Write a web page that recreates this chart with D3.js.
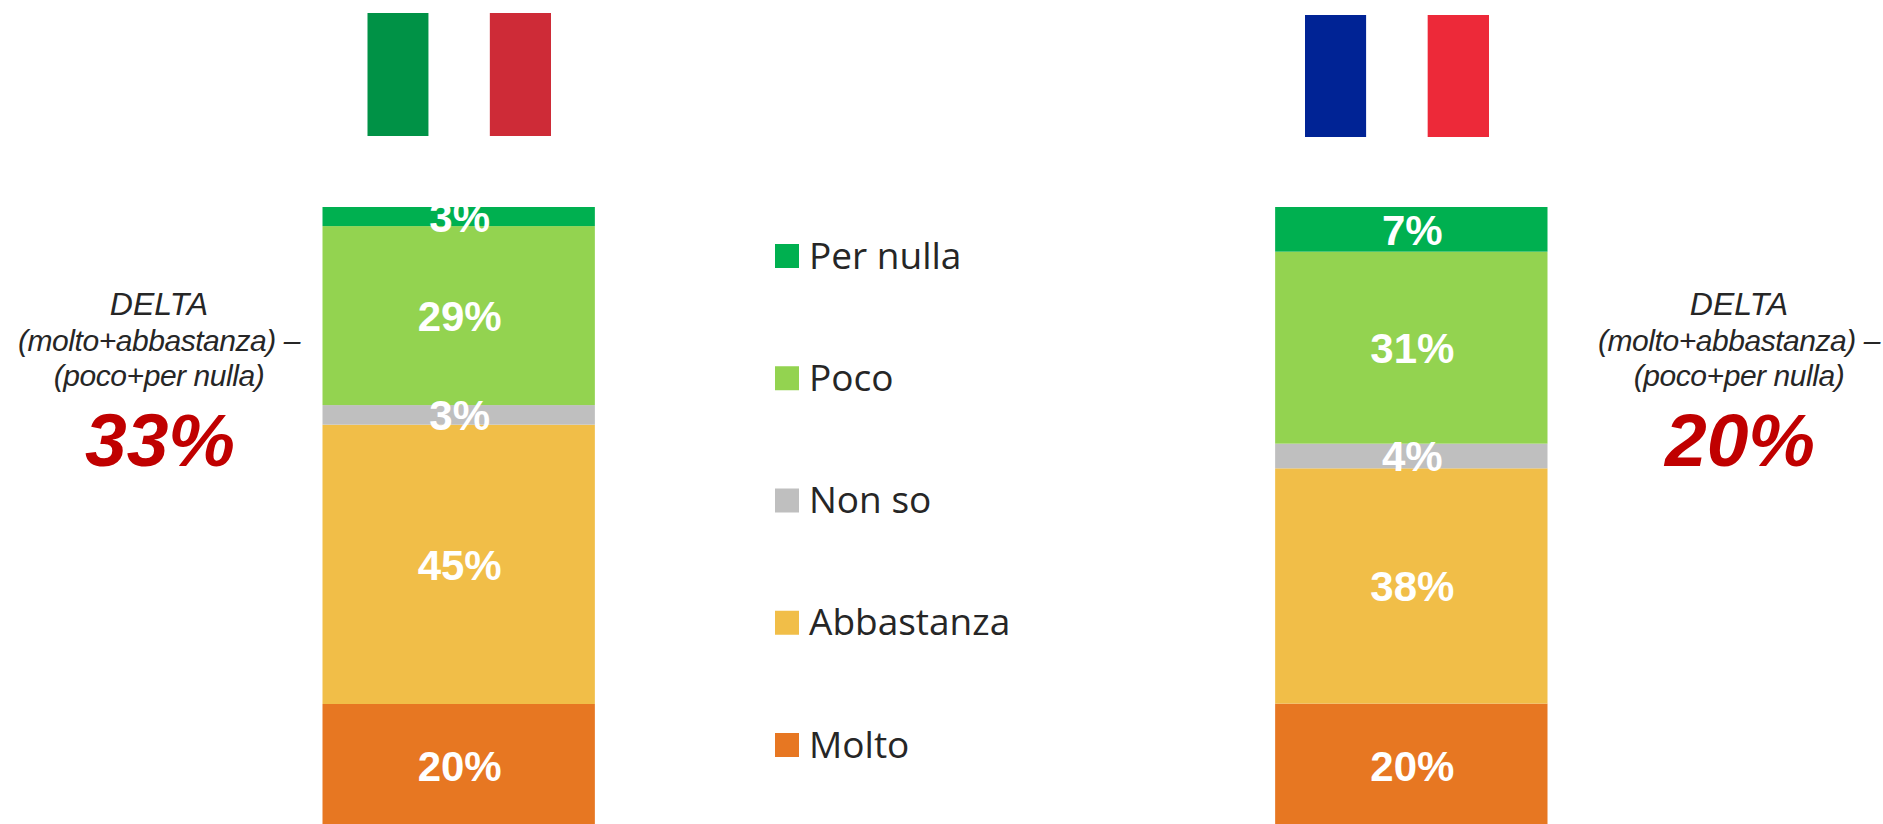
<!DOCTYPE html>
<html>
<head>
<meta charset="utf-8">
<script src="https://cdn.jsdelivr.net/npm/d3@7/dist/d3.min.js"></script>
<style>
html,body{margin:0;padding:0;background:#fff;overflow:hidden}
svg{display:block}
</style>
</head>
<body>
<svg id="c" width="1883" height="824"></svg>
<script>
const countries = ["Italia", "Francia"];
const responses = ["Molto", "Abbastanza", "Non so", "Poco", "Per nulla"];
const legendOrder = ["Per nulla", "Poco", "Non so", "Abbastanza", "Molto"];
const valuesItalia = [19.84, 45.05, 3.16, 28.87, 3.08];
const valuesFrancia = [19.9, 37.95, 3.98, 30.97, 7.2];
const colours = ["#E77722", "#F1BE48", "#BFBFBF", "#93D350", "#00B050"];
const deltaLines = ["DELTA", "(molto+abbastanza) –", "(poco+per nulla)"];
const deltaValues = ["33%", "20%"];
const flagItalia = ["#009246", "#FFFFFF", "#CE2B37"];
const flagFrancia = ["#002395", "#FFFFFF", "#ED2939"];

const svg = d3.select("#c");
const rows = countries.map((c, i) => {
  const src = i === 0 ? valuesItalia : valuesFrancia;
  const r = {country: c};
  responses.forEach((k, j) => r[k] = src[j]);
  return r;
});
const x = d3.scaleBand().domain(countries).range([322.5, 1547.5]).paddingInner(0.7141).paddingOuter(0);
const y = d3.scaleLinear().domain([0, 100]).range([827, 207]);
const colour = d3.scaleOrdinal().domain(responses).range(colours);
const stack = d3.stack().keys(responses)(rows);

const layers = svg.append("g").selectAll("g").data(stack).join("g").attr("fill", d => colour(d.key));
layers.selectAll("rect").data(d => d).join("rect")
  .attr("x", d => x(d.data.country))
  .attr("width", x.bandwidth())
  .attr("y", d => y(d[1]))
  .attr("height", d => y(d[0]) - y(d[1]));

const labels = svg.append("g").attr("font-family", "'Liberation Sans',Arial,sans-serif")
  .attr("font-weight", "700").attr("font-size", 42).attr("fill", "#fff").attr("text-anchor", "middle");
stack.forEach(layer => {
  labels.selectAll(null).data(layer).join("text")
    .attr("x", d => x(d.data.country) + x.bandwidth() / 2 + 1)
    .attr("y", d => (y(d[0]) + y(d[1])) / 2 + 15.5)
    .text(d => Math.round(d[1] - d[0]) + "%");
});

const flagX = [d3.scaleBand().domain(flagItalia).range([367.5, 551]), d3.scaleBand().domain(flagFrancia).range([1305, 1489])];
const flagTop = [13, 15], flagBottom = [136, 137];
[flagItalia, flagFrancia].forEach((f, i) => {
  svg.append("g").selectAll("rect").data(f).join("rect")
    .attr("x", d => flagX[i](d)).attr("width", flagX[i].bandwidth())
    .attr("y", flagTop[i]).attr("height", flagBottom[i] - flagTop[i]).attr("fill", d => d);
});

const legendY = d3.scalePoint().domain(legendOrder).range([256, 745]);
const legend = svg.append("g").selectAll("g").data(legendOrder).join("g")
  .attr("transform", d => `translate(775,${legendY(d)})`);
legend.append("rect").attr("y", -12).attr("width", 24).attr("height", 24).attr("fill", d => colour(d));
legend.append("text").attr("x", 34).attr("y", 12.5)
  .attr("font-family", "'Open Sans','Noto Sans',sans-serif").attr("font-size", 37).attr("fill", "#262626")
  .text(d => d);

const deltaX = d3.scaleOrdinal().domain(countries).range([159, 1739]);
const deltaY = d3.scalePoint().domain(deltaLines).range([315, 386]);
countries.forEach((c, i) => {
  const g = svg.append("g").attr("text-anchor", "middle").attr("font-family", "'Liberation Sans',Arial,sans-serif").attr("font-style", "italic");
  g.selectAll("text.l").data(deltaLines).join("text").attr("class", "l")
    .attr("x", deltaX(c)).attr("y", d => deltaY(d))
    .attr("font-size", (d, j) => j === 0 ? 32 : 30)
    .attr("letter-spacing", (d, j) => j === 0 ? 0 : -0.45)
    .attr("fill", "#262626").text(d => d);
  g.append("text").attr("x", deltaX(c) + 1).attr("y", 466).attr("font-size", 75).attr("font-weight", "700")
    .attr("fill", "#C00000").text(deltaValues[i]);
});
</script>
</body>
</html>
